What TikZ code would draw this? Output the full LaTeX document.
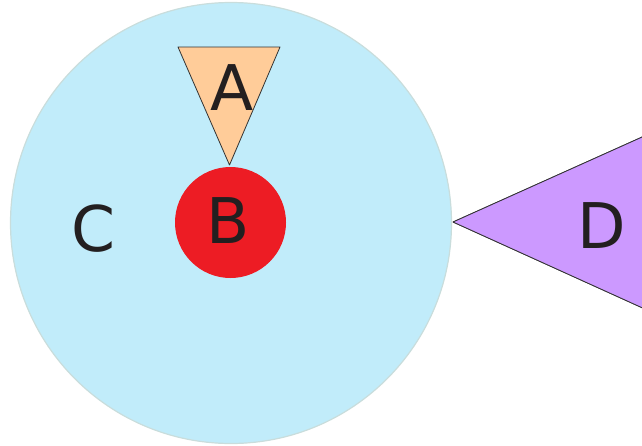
\documentclass[tikz,border=0pt]{standalone}
\usepackage{fontspec}
\setmainfont{DejaVu Sans}
\definecolor{bigblue}{HTML}{C1ECFA}
\definecolor{bigedge}{HTML}{C9DDDC}
\definecolor{aorange}{HTML}{FFCC99}
\definecolor{bred}{HTML}{ED1C24}
\definecolor{dpurple}{HTML}{CC99FF}
\definecolor{txt}{HTML}{231F20}
\begin{document}
\begin{tikzpicture}[x=1pt,y=-1pt,
  lbl/.style={anchor=base,inner sep=0pt,text=txt,font=\fontsize{63}{63}\selectfont},
  shapeedge/.style={draw=black!80,line width=0.8pt,line join=round}]
\useasboundingbox (0,0) rectangle (642,445);
\clip (0,0) rectangle (642,445);
% big circle C
\fill[bigblue,draw=bigedge,line width=1.2pt] (231,223) circle[radius=220.5];
% triangle A
\coordinate (a1) at (178,47);
\coordinate (a2) at (280,47);
\coordinate (a3) at (229.5,165);
\filldraw[fill=aorange,shapeedge] (a1) -- (a2) -- (a3) -- cycle;
% circle B
\fill[bred] (230.5,222.5) circle[radius=55.5];
% triangle D
\coordinate (d1) at (453,222);
\coordinate (d2) at (700,111);
\coordinate (d3) at (700,334);
\filldraw[fill=dpurple,shapeedge] (d2) -- (d1) -- (d3);
\fill[dpurple] (d1) -- (d2) -- (d3) -- cycle;
\draw[shapeedge] (d2) -- (d1) -- (d3);
% labels
\node[lbl] (A) at (232,110) {A};
\node[lbl] (B) at (228.5,243) {B};
\node[lbl] (C) at (93.5,251) {C};
\node[lbl] (D) at (602,248) {D};
\end{tikzpicture}
\end{document}
